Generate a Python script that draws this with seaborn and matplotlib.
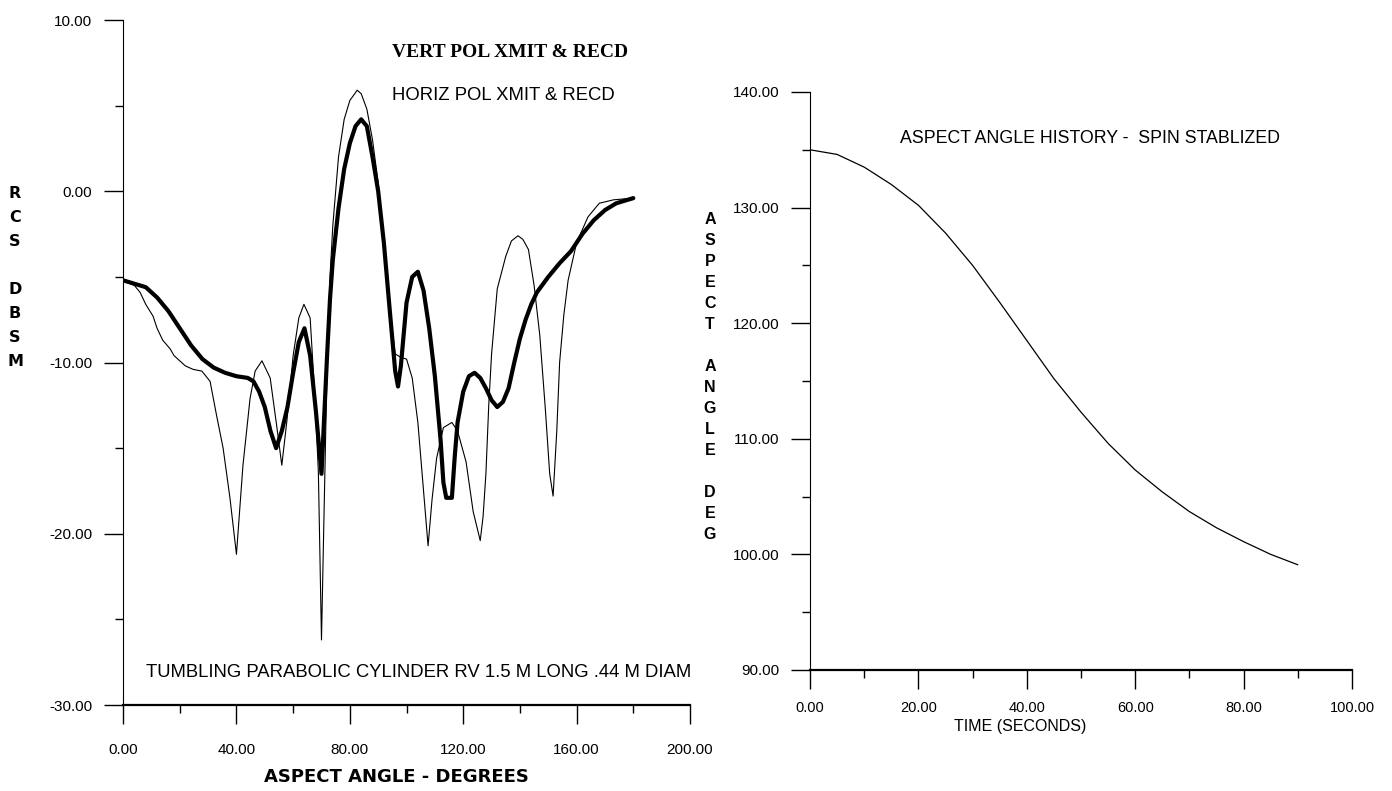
import pandas as pd
import seaborn as sns
import matplotlib.pyplot as plt
from matplotlib.ticker import MultipleLocator, FormatStrFormatter

# left panel: RCS vs aspect angle
vert_angle = [0, 4, 8, 12, 16, 20, 24, 28, 32, 36, 40, 44, 46, 48, 50, 52, 54, 56, 58, 60,
              62, 64, 66, 68, 70, 71, 72, 73, 74, 76, 78, 80, 82, 84, 86, 88, 90, 92, 94, 96,
              97, 98, 100, 102, 104, 106, 108, 110, 112, 113, 114, 116, 117, 118, 120, 122,
              124, 126, 128, 130, 132, 134, 136, 138, 140, 142, 144, 146, 150, 154, 158, 162,
              166, 170, 174, 178, 180]
vert_rcs = [-5.2, -5.4, -5.6, -6.2, -7.0, -8.0, -9.0, -9.8, -10.3, -10.6, -10.8, -10.9, -11.1,
            -11.7, -12.6, -14.0, -15.0, -14.0, -12.6, -10.6, -8.8, -8.0, -9.6, -12.8, -16.5,
            -13.0, -9.5, -6.3, -4.0, -1.0, 1.3, 2.8, 3.8, 4.2, 3.8, 2.0, 0.0, -3.0, -6.8, -10.5,
            -11.4, -10.2, -6.5, -5.0, -4.7, -5.8, -8.0, -10.8, -14.5, -17.0, -17.9, -17.9,
            -15.5, -13.5, -11.7, -10.8, -10.6, -10.9, -11.5, -12.2, -12.6, -12.3, -11.5, -10.0,
            -8.6, -7.5, -6.6, -5.9, -5.0, -4.2, -3.5, -2.5, -1.7, -1.1, -0.7, -0.5, -0.4]

horiz_angle = [0, 4, 6, 8, 10.6, 12, 14, 16.6, 18, 20, 22, 24.7, 27.8, 30.7, 33, 35.3, 37.7,
               40, 42.3, 44.8, 46.6, 49, 51.9, 54.2, 56, 57.8, 60, 62, 63.8, 66, 67.7, 68.9,
               70, 71, 72, 73, 74, 76, 78, 80, 82.6, 84, 86, 88, 90, 92, 94, 96, 98, 100, 102,
               104, 106, 107.6, 109, 110.6, 113, 116, 118, 121, 123.5, 126, 127, 128, 129, 130,
               132, 135, 137, 139.3, 141, 143, 145, 147, 149, 150.5, 151.7, 153, 154, 155.5,
               157, 160, 164, 168, 173, 180]
horiz_rcs = [-5.2, -5.5, -5.9, -6.6, -7.3, -8.0, -8.7, -9.2, -9.6, -9.9, -10.2, -10.4, -10.5,
             -11.1, -13.1, -15.0, -17.9, -21.2, -16.0, -12.1, -10.5, -9.9, -10.9, -13.7, -16.0,
             -13.4, -9.6, -7.4, -6.6, -7.4, -12.1, -16.4, -26.2, -18.0, -10.0, -5.0, -2.0, 2.0,
             4.2, 5.3, 5.9, 5.7, 4.8, 3.0, 0.5, -2.8, -6.8, -9.5, -9.7, -9.8, -10.9, -13.5,
             -17.5, -20.7, -18.0, -15.6, -13.8, -13.5, -14.0, -15.8, -18.7, -20.4, -19.0, -16.5,
             -12.5, -9.5, -5.7, -3.8, -2.9, -2.6, -2.8, -3.4, -5.5, -8.4, -12.8, -16.5, -17.8,
             -14.0, -10.0, -7.2, -5.2, -3.0, -1.5, -0.7, -0.5, -0.4]

# right panel: aspect angle history
time_s = [0, 5, 10, 15, 20, 25, 30, 35, 40, 45, 50, 55, 60, 65, 70, 75, 80, 85, 90]
aspect_deg = [135.0, 134.6, 133.5, 132.0, 130.2, 127.8, 125.0, 121.8, 118.5, 115.2, 112.3,
              109.6, 107.3, 105.4, 103.7, 102.3, 101.1, 100.0, 99.1]

sns.set_theme(style="white")
plt.rcParams['font.family'] = ['Liberation Sans', 'DejaVu Sans']
plt.rcParams['text.color'] = 'black'

vert = pd.DataFrame({'angle': vert_angle, 'rcs': vert_rcs})
horiz = pd.DataFrame({'angle': horiz_angle, 'rcs': horiz_rcs})
hist = pd.DataFrame({'t': time_s, 'deg': aspect_deg})

fig = plt.figure(figsize=(13.92, 7.91), dpi=100)
ax1 = fig.add_axes([0.0884, 0.1087, 0.4073, 0.866])
ax2 = fig.add_axes([0.5819, 0.153, 0.3894, 0.7307])

sns.lineplot(data=horiz, x='angle', y='rcs', ax=ax1, color='black', linewidth=0.8,
             sort=False, estimator=None)
sns.lineplot(data=vert, x='angle', y='rcs', ax=ax1, color='black', linewidth=3.0,
             sort=False, estimator=None)
sns.lineplot(data=hist, x='t', y='deg', ax=ax2, color='black', linewidth=0.9,
             sort=False, estimator=None)

ax1.set_xlim(0, 200)
ax1.set_ylim(-30, 10)
ax2.set_xlim(0, 100)
ax2.set_ylim(90, 140)

for ax, xmaj, xmin, ymaj, ymin in [(ax1, 40, 20, 10, 5), (ax2, 20, 10, 10, 5)]:
    ax.set_facecolor('white')
    ax.set_xlabel('')
    ax.set_ylabel('')
    ax.xaxis.set_major_locator(MultipleLocator(xmaj))
    ax.xaxis.set_minor_locator(MultipleLocator(xmin))
    ax.yaxis.set_major_locator(MultipleLocator(ymaj))
    ax.yaxis.set_minor_locator(MultipleLocator(ymin))
    ax.xaxis.set_major_formatter(FormatStrFormatter('%.2f'))
    ax.yaxis.set_major_formatter(FormatStrFormatter('%.2f'))
    ax.tick_params(which='major', direction='out', length=14, width=1, color='black',
                   labelsize=11, labelcolor='black', pad=8, bottom=True, left=True)
    ax.tick_params(which='minor', direction='out', length=6, width=1, color='black',
                   bottom=True, left=True)
    for s in ['top', 'right']:
        ax.spines[s].set_visible(False)
    ax.spines['left'].set_linewidth(0.8)
    ax.spines['bottom'].set_linewidth(1.6)
    ax.spines['left'].set_color('black')
    ax.spines['bottom'].set_color('black')

ax1.tick_params(axis='x', which='major', pad=13)
ax2.tick_params(axis='x', which='major', pad=8, labelsize=10.5)

ax1.text(94.9, 8.1, 'VERT POL XMIT & RECD', fontsize=14, fontweight='bold',
         family=['Liberation Serif', 'DejaVu Serif'], va='center', ha='left')
ax1.text(94.9, 5.6, 'HORIZ POL XMIT & RECD', fontsize=13.3, va='center', ha='left')
ax1.text(8.1, -28.1, 'TUMBLING PARABOLIC CYLINDER RV 1.5 M LONG .44 M DIAM',
         fontsize=13.3, va='center', ha='left')
ax2.text(16.6, 136.0, 'ASPECT ANGLE HISTORY -  SPIN STABLIZED', fontsize=12.8,
         va='center', ha='left')

fig.text(396 / 1392, 1 - 777 / 791, 'ASPECT ANGLE - DEGREES', fontsize=13,
         fontweight='bold', family=['Liberation Sans Narrow', 'DejaVu Sans'],
         ha='center', va='center')
fig.text(1020 / 1392, 1 - 726 / 791, 'TIME (SECONDS)', fontsize=11.5,
         ha='center', va='center')
fig.text(15 / 1392, 1 - 277 / 791, 'R\nC\nS\n\nD\nB\nS\nM', fontsize=11.5,
         fontweight='bold', family=['Liberation Sans Narrow', 'DejaVu Sans'],
         ha='center', va='center', linespacing=1.75)
fig.text(710 / 1392, 1 - 377 / 791, 'A\nS\nP\nE\nC\nT\n\nA\nN\nG\nL\nE\n\nD\nE\nG',
         fontsize=11.5, fontweight='bold', ha='center', va='center', linespacing=1.5)

fig.savefig('out.png', dpi=100, facecolor='white')
